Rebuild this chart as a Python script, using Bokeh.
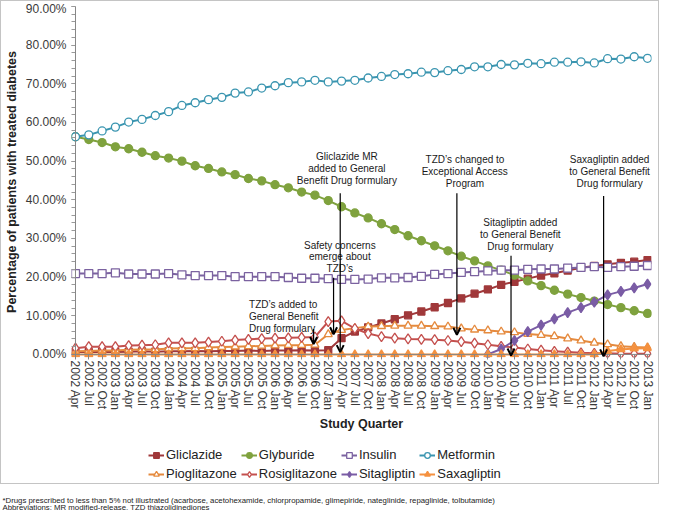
import math
from bokeh.plotting import figure
from bokeh.layouts import column
from bokeh.models import (Range1d, FixedTicker, Span, Arrow, OpenHead, Legend,
                          LegendItem, Label, PrintfTickFormatter, ColumnDataSource)
from bokeh.core.properties import value
from bokeh.embed import file_html
from bokeh.resources import INLINE

# ---------------- data ----------------
quarters = ["2002 Apr", "2002 Jul", "2002 Oct", "2003 Jan", "2003 Apr", "2003 Jul",
            "2003 Oct", "2004 Jan", "2004 Apr", "2004 Jul", "2004 Oct", "2005 Jan",
            "2005 Apr", "2005 Jul", "2005 Oct", "2006 Jan", "2006 Apr", "2006 Jul",
            "2006 Oct", "2007 Jan", "2007 Apr", "2007 Jul", "2007 Oct", "2008 Jan",
            "2008 Apr", "2008 Jul", "2008 Oct", "2009 Jan", "2009 Apr", "2009 Jul",
            "2009 Oct", "2010 Jan", "2010 Apr", "2010 Jul", "2010 Oct", "2011 Jan",
            "2011 Apr", "2011 Jul", "2011 Oct", "2012 Jan", "2012 Apr", "2012 Jul",
            "2012 Oct", "2013 Jan"]

gliclazide = [0.6, 0.6, 0.7, 0.6, 0.7, 0.8, 0.7, 0.8, 0.8, 0.9, 0.8, 0.9, 0.9, 1.0, 0.9,
              1.0, 1.0, 1.1, 1.0, 1.1, 4.2, 5.9, 7.0, 8.0, 9.1, 10.1, 11.1, 12.2, 13.3,
              14.5, 15.7, 16.8, 18.0, 18.8, 19.6, 20.4, 21.0, 21.7, 22.4, 22.9, 23.3,
              23.7, 24.0, 24.4]
glyburide = [56.3, 55.6, 54.8, 53.7, 53.2, 52.3, 51.4, 50.8, 50.0, 48.8, 48.1, 47.2,
             46.5, 45.5, 44.9, 43.9, 43.1, 42.0, 41.2, 39.8, 38.2, 36.6, 35.3, 33.8,
             32.3, 30.7, 29.4, 28.1, 26.8, 25.4, 24.2, 22.9, 21.8, 20.5, 19.0, 17.8,
             16.6, 15.6, 14.7, 13.8, 12.9, 12.1, 11.3, 10.6]
insulin = [20.9, 20.9, 20.9, 21.1, 20.8, 20.8, 20.8, 20.9, 20.6, 20.4, 20.4, 20.4,
           20.1, 20.1, 20.1, 20.1, 19.9, 19.7, 19.7, 19.6, 19.4, 19.4, 19.5, 19.8,
           19.8, 19.9, 20.2, 20.7, 20.9, 21.2, 21.4, 21.6, 21.8, 21.8, 22.0, 22.1,
           22.1, 22.3, 22.5, 22.7, 22.5, 22.7, 22.8, 23.0]
metformin = [56.3, 56.8, 57.8, 58.8, 60.1, 60.8, 61.8, 62.8, 64.4, 65.1, 65.9, 66.5,
             67.6, 67.9, 68.9, 69.5, 70.3, 70.5, 70.9, 70.5, 70.7, 70.9, 71.5, 71.9,
             72.4, 72.6, 73.0, 72.9, 73.4, 73.7, 74.4, 74.4, 75.0, 74.9, 75.3, 75.2,
             75.6, 75.6, 75.7, 75.4, 76.5, 76.4, 77.0, 76.6]
pioglitazone = [0.8, 0.9, 1.0, 1.0, 1.2, 1.3, 1.3, 1.5, 1.6, 1.6, 1.8, 1.9, 2.0, 2.1,
                2.2, 2.3, 2.4, 2.4, 2.5, 5.2, 6.3, 6.8, 7.2, 7.3, 7.4, 7.4, 7.4, 7.3,
                7.2, 6.7, 6.4, 6.2, 5.9, 5.7, 5.3, 5.0, 4.7, 4.1, 3.6, 3.0, 2.6, 2.1,
                1.9, 1.8]
rosiglitazone = [1.6, 2.0, 2.0, 2.0, 2.3, 2.4, 2.5, 3.0, 3.0, 3.0, 3.2, 3.4, 3.7, 3.9,
                 4.1, 4.2, 4.3, 4.4, 4.5, 8.5, 8.7, 6.7, 5.4, 4.6, 4.2, 4.0, 3.9, 3.8,
                 3.6, 3.3, 2.9, 2.5, 2.1, 1.8, 1.4, 1.1, 0.8, 0.6, 0.4, 0.3, 0.3, 0.2,
                 0.2, 0.2]
sitagliptin = [None, None, None, None, None, None, None, None, None, None, None, None,
               None, None, None, None, None, None, None, None, None, None, None, None,
               None, None, None, None, None, None, None, 0.0, 1.4, 3.6, 5.9, 7.6, 9.2,
               10.8, 12.1, 13.5, 15.4, 16.3, 17.2, 18.2]
saxagliptin = [0.0, 0.0, 0.0, 0.0, 0.0, 0.0, 0.0, 0.0, 0.0, 0.0, 0.0, 0.0, 0.0, 0.0,
               0.0, 0.0, 0.0, 0.0, 0.0, 0.0, 0.0, 0.0, 0.0, 0.0, 0.0, 0.0, 0.0, 0.0,
               0.0, 0.0, 0.0, 0.0, 0.0, 0.0, 0.0, 0.0, 0.0, 0.0, 0.0, 0.0, 0.9, 1.3,
               1.5, 1.6]

y_ticks = [0, 10, 20, 30, 40, 50, 60, 70, 80, 90]

# annotation texts (line by line) and arrows
note_lines = ["TZD\u2019s added to", "General Benefit", "Drug  formulary",
              "Safety concerns", "emerge about", "TZD\u2019s",
              "Gliclazide MR", "added to General", "Benefit Drug formulary",
              "TZD\u2019s changed to", "Exceptional Access", "Program",
              "Sitagliptin added", "to General Benefit", "Drug formulary",
              "Saxagliptin added", "to General Benefit", "Drug formulary"]
note_x = [13.05, 13.05, 13.05, 19.87, 19.87, 19.87, 20.4, 20.4, 20.4,
          29.28, 29.28, 29.28, 33.44, 33.44, 33.44, 40.15, 40.15, 40.15]
note_y = [13.0, 9.9, 6.8, 28.3, 25.2, 22.1, 51.3, 48.2, 45.1,
          50.4, 47.3, 44.3, 34.0, 31.0, 28.0, 50.4, 47.3, 44.3]
note_align = ["left"] * 3 + ["center"] * 15

arrow_x = [17.9, 19.4, 19.9, 28.67, 32.74, 39.7]
arrow_y0 = [6.6, 19.8, 41.7, 41.7, 25.5, 41.0]
arrow_y1 = [2.7, 5.2, 0.6, 5.1, -0.3, -0.5]

footnotes = ["*Drugs prescribed to less than 5% not illustrated (acarbose, acetohexamide, "
             "chlorpropamide, glimepiride, nateglinide, repaglinide, tolbutamide)",
             "Abbreviations: MR modified-release, TZD thiazolidinediones"]

FONT = "Liberation Sans"

series = [
    ("Gliclazide", gliclazide, "#A0383A", "square", 7, "#A0383A"),
    ("Glyburide", glyburide, "#7FA23E", "circle", 8, "#7FA23E"),
    ("Insulin", insulin, "#7B62A0", "square", 8, "white"),
    ("Metformin", metformin, "#3A95B0", "circle", 8, "white"),
    ("Pioglitazone", pioglitazone, "#E58A3E", "triangle", 8, "white"),
    ("Rosiglitazone", rosiglitazone, "#C4504E", "diamond", 10, "white"),
    ("Sitagliptin", sitagliptin, "#7A5CA5", "diamond", 10, "#7A5CA5"),
    ("Saxagliptin", saxagliptin, "#F5913F", "triangle", 8, "#F5913F"),
]
xs = list(range(len(quarters)))

# ---------------- chart ----------------
p = figure(frame_width=580, frame_height=351, output_backend="svg",
           toolbar_location=None,
           x_range=Range1d(-0.3, 43.3), y_range=Range1d(-0.8, 90),
           min_border_left=68, min_border_right=7, min_border_top=5,
           min_border_bottom=75)
p.xgrid.visible = False
p.ygrid.visible = False
p.outline_line_color = None
p.background_fill_color = "white"
p.border_fill_color = "white"

p.yaxis.ticker = FixedTicker(ticks=y_ticks, minor_ticks=list(range(0, 91, 2)))
p.yaxis.formatter = PrintfTickFormatter(format="%.2f%%")
p.yaxis.axis_line_color = None
p.yaxis.major_tick_in = 4
p.yaxis.major_tick_out = 0
p.yaxis.minor_tick_in = 4
p.yaxis.minor_tick_out = 0
p.yaxis.major_tick_line_color = "#868686"
p.yaxis.minor_tick_line_color = "#9a9a9a"
p.yaxis.major_label_standoff = 5
p.yaxis.major_label_text_font = FONT
p.yaxis.major_label_text_font_size = "12px"
p.yaxis.major_label_text_color = "#3a3a3a"
p.yaxis.axis_label = "Percentage of patients with treated diabetes"
p.yaxis.axis_label_text_font = FONT
p.yaxis.axis_label_text_font_style = "bold"
p.yaxis.axis_label_text_font_size = "12.5px"
p.yaxis.axis_label_text_color = "#222222"
p.yaxis.axis_label_standoff = 4

p.xaxis.ticker = FixedTicker(ticks=xs, minor_ticks=[])
p.xaxis.major_label_overrides = {i: q for i, q in enumerate(quarters)}
p.xaxis.major_label_orientation = -math.pi / 2
p.xaxis.axis_line_color = None
p.xaxis.major_tick_in = 3
p.xaxis.major_tick_out = 2
p.xaxis.major_tick_line_color = "#868686"
p.xaxis.major_label_standoff = 1
p.xaxis.major_label_text_font = FONT
p.xaxis.major_label_text_font_size = "12px"
p.xaxis.major_label_text_color = "#3a3a3a"
p.xaxis.axis_label = "Study Quarter"
p.xaxis.axis_label_text_font = FONT
p.xaxis.axis_label_text_font_style = "bold"
p.xaxis.axis_label_text_font_size = "12.5px"
p.xaxis.axis_label_text_color = "#222222"
p.xaxis.axis_label_standoff = 4

p.add_layout(Span(location=0, dimension="height", line_color="#868686", line_width=1))
p.add_layout(Span(location=0, dimension="width", line_color="#868686", line_width=1))

for name, vals, col, marker, size, fill in series:
    yv = [float("nan") if v is None else v for v in vals]
    src = ColumnDataSource(dict(x=xs, y=yv))
    p.line("x", "y", source=src, line_color=col, line_width=2)
    p.scatter("x", "y", source=src, marker=marker, size=size,
              line_color=col, fill_color=fill, line_width=1.3)

nsrc = ColumnDataSource(dict(x=note_x, y=note_y, t=note_lines, a=note_align))
p.text("x", "y", text="t", source=nsrc, text_align="a", text_baseline="middle",
       text_font=value(FONT), text_font_size="10px", text_color="#1a1a1a")

for ax, ay0, ay1 in zip(arrow_x, arrow_y0, arrow_y1):
    p.add_layout(Arrow(end=OpenHead(size=7, line_width=2, line_color="black"),
                       x_start=ax, y_start=ay0, x_end=ax, y_end=ay1,
                       line_color="black", line_width=1.2))

# ---------------- legend strip (same series, glyph styles only) ----------------
lg = figure(width=655, height=50, output_backend="svg", toolbar_location=None,
            x_range=Range1d(-0.3, 43.3), y_range=Range1d(-0.8, 90),
            x_axis_type=None, y_axis_type=None, min_border=0)
lg.outline_line_color = None
lg.background_fill_color = "white"
lg.border_fill_color = "white"
items = []
for name, vals, col, marker, size, fill in series:
    yv = [float("nan") if v is None else v for v in vals]
    src = ColumnDataSource(dict(x=xs, y=yv))
    lr = lg.line("x", "y", source=src, line_color=col, line_width=2, visible=False)
    sr = lg.scatter("x", "y", source=src, marker=marker, size=size,
                    line_color=col, fill_color=fill, line_width=1.3, visible=False)
    items.append(LegendItem(label=name, renderers=[lr, sr]))
legend = Legend(items=items, orientation="horizontal", ncols=4, location=(77, 2),
                label_text_font=FONT, label_text_font_size="13px",
                label_text_color="#222222", glyph_width=16, glyph_height=14,
                label_height=14, label_standoff=2, spacing=4, padding=0, margin=0,
                border_line_color=None, background_fill_alpha=0,
                click_policy="none")
lg.add_layout(legend, "center")

# ---------------- footnotes ----------------
f = figure(width=657, height=26, output_backend="svg", toolbar_location=None,
           x_range=Range1d(0, 657), y_range=Range1d(26, 0),
           x_axis_type=None, y_axis_type=None, min_border=0)
f.outline_line_color = None
f.background_fill_color = "white"
f.border_fill_color = "white"
f.add_layout(Label(x=2, y=15.5, text=footnotes[0], text_font=FONT,
                   text_font_size="7.8px", text_baseline="middle", text_color="#222222"))
f.add_layout(Label(x=2, y=22.5, text=footnotes[1], text_font=FONT,
                   text_font_size="7.8px", text_baseline="middle", text_color="#222222"))

boxed = column(p, lg, styles={"border": "1px solid #C4C4C4"})
open("out.html", "w").write(file_html(column(boxed, f), INLINE))
